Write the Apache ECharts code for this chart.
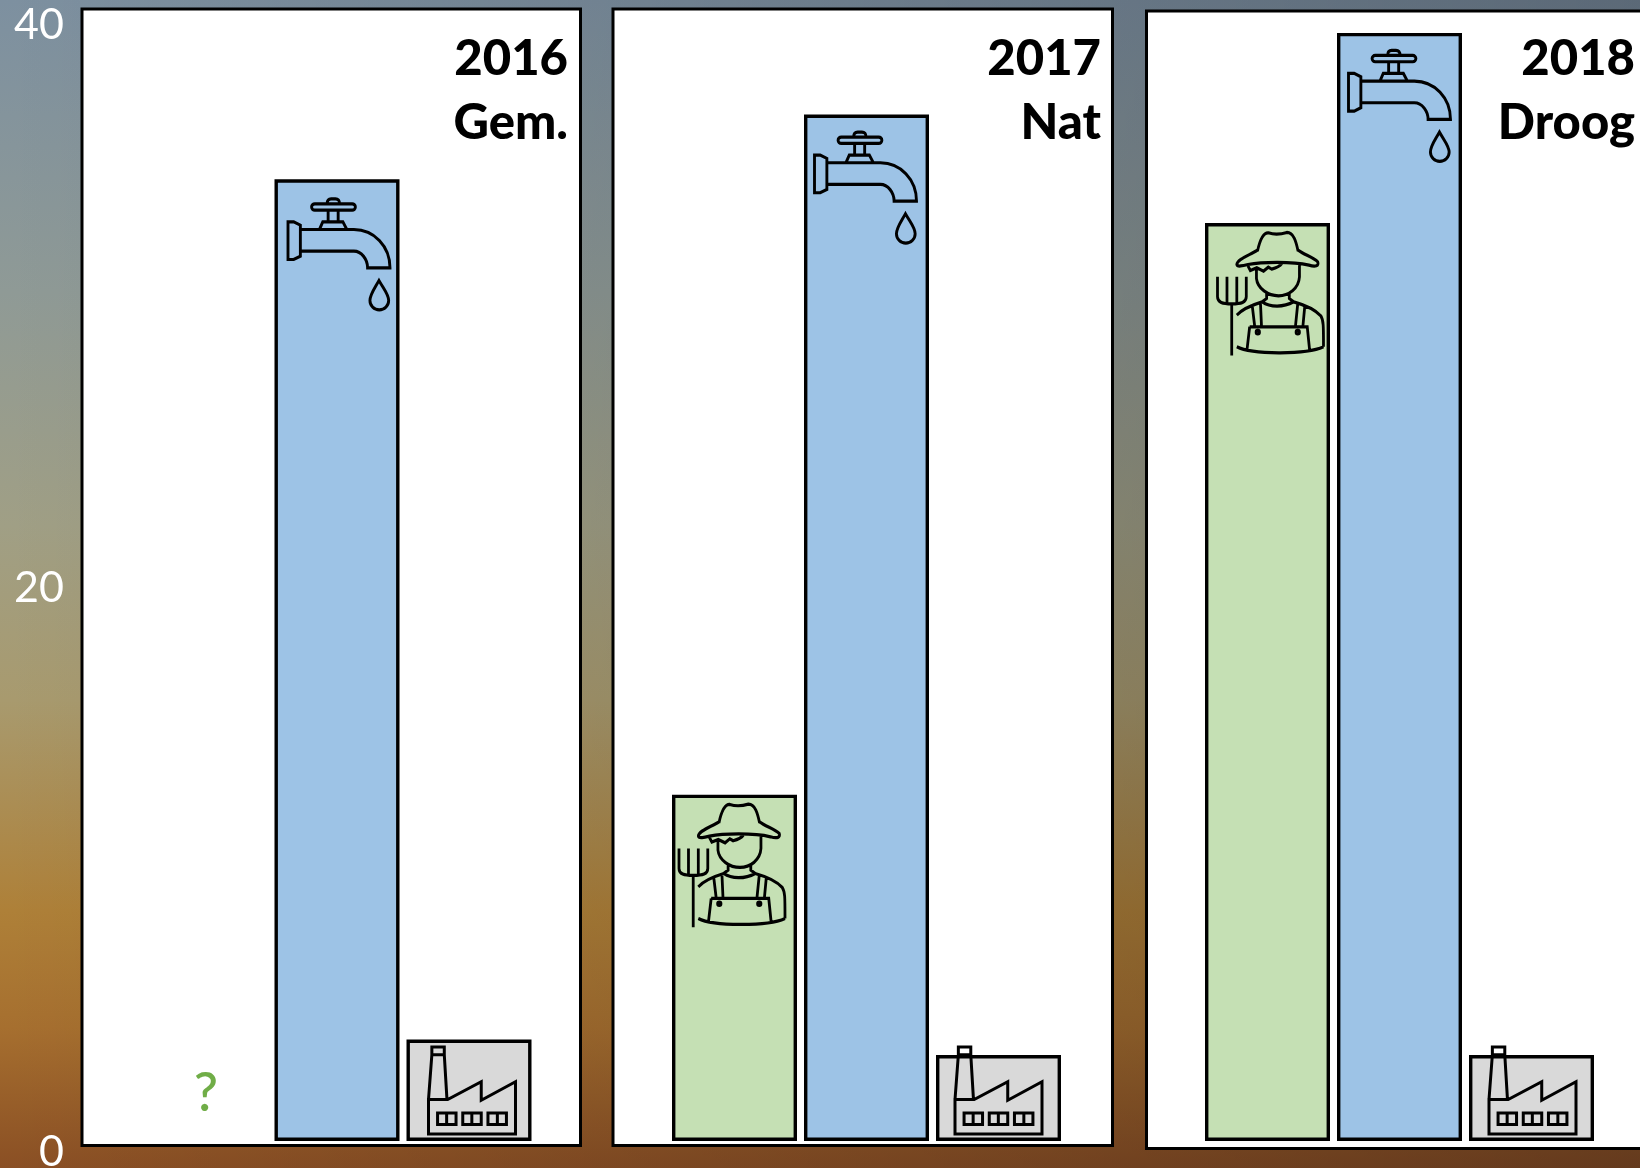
<!DOCTYPE html>
<html>
<head>
<meta charset="utf-8">
<style>html,body{margin:0;padding:0;background:#7d90a0;overflow:hidden}#c{width:1640px;height:1168px}</style>
<script src="https://cdn.jsdelivr.net/npm/echarts@6/dist/echarts.min.js"></script>
</head>
<body>
<div id="c"></div>
<script>
const categories = ['Landbouw', 'Drinkwater', 'Industrie'];
const years = ['2016', '2017', '2018'];
const regimes = ['Gem.', 'Nat', 'Droog'];
const landbouw = [null, 12.3, 32.6];
const drinkwater = [34.15, 36.45, 39.35];
const industrie = [3.6, 3.05, 3.05];
const axisTicks = [0, 20, 40];
const unknownMark = '?';

const TAP = 'path://M708 168H820A9.5 9.5 0 0 1 820 187H708A9.5 9.5 0 0 1 708 168Z' +
  'M745 168C745 158 750 153 757 153H770C778 153 782 158 782 168' +
  'M748 187V222M778 187V222M722 245L732 222H792L804 245' +
  'M628 222H645L665 232V325L645 335H628Z' +
  'M665 245H825C885 245 933 295 933 360H866C866 335 848 310 825 310H665' +
  'M900 398C885 425 873 440 873 458A27 27 0 0 0 929 458C929 440 915 425 900 398Z';
const FARMER = 'path://M178 128C185 95 195 72 210 73C225 78 245 78 265 72C285 72 292 100 298 128' +
  'M178 125C155 140 118 152 117 168C118 176 135 172 150 168C190 160 280 158 330 170C350 176 360 172 356 160C345 148 315 138 298 125' +
  'M150 172L157 186L176 178L196 188L210 176L220 182C235 178 245 172 250 165' +
  'M175 180V210C178 240 210 262 240 262C270 262 300 240 302 205V166' +
  'M205 252V270L192 280C215 297 255 297 285 280L272 270V254' +
  'M117 320C130 305 160 290 192 280M285 280C320 290 350 305 365 322C373 335 373 350 373 415' +
  'M117 415C160 438 320 440 373 415' +
  'M162 287L170 355M187 287L190 355M297 285L290 355M318 290L312 355' +
  'M155 355H325L332 425M155 355L147 425' +
  'M174 371A5 5 0 0 0 184 371A5 5 0 0 0 174 371ZM292 371A5 5 0 0 0 302 371A5 5 0 0 0 292 371Z' +
  'M60 205V265C60 282 75 286 102 286C130 286 145 282 145 265V205M88 205V286M117 205V286M102 286V441';
const FACTORY = 'path://M888 958L898 825V802H935V825L943 958M898 825H935' +
  'M888 958H945L1045 905V960L1147 905V1060H888Z' +
  'M915 998H970V1032H915ZM942 998V1032M990 998H1045V1032H990ZM1017 998V1032M1065 998H1120V1032H1065ZM1093 998V1032';

const barColors = ['#C5E0B4', '#9DC3E6', '#D9D9D9'];
const font = 'Lato';
const chart = echarts.init(document.getElementById('c'), null, {renderer: 'canvas'});

const plotLeft = [139, 668.5, 1201.5];
const plotWidth = 396;
const plotTop = 14.6, plotHeight = 1126.4;
const frames = [[82, 9, 498.5, 1136.5], [613, 9, 499.5, 1136.5], [1146.5, 11, 520, 1137.5]];
const titleEdge = [563, 1096, 1630];
const iconLine = {color: 'transparent', borderColor: '#000', borderWidth: 3, opacity: 1};

const grid = plotLeft.map(l => ({left: l, width: plotWidth, top: plotTop, height: plotHeight, outerBoundsMode: 'none'}));
grid.push({left: 74, width: 5, top: 25, height: 1127, outerBoundsMode: 'none'});

const xAxis = grid.map((g, i) => ({type: 'category', data: categories, gridIndex: i, show: false}));
const yAxis = grid.map((g, i) => i < 3
  ? {type: 'value', min: 0, max: 40, gridIndex: i, show: false}
  : {type: 'value', min: 0, max: 40, interval: 20, gridIndex: i, position: 'left',
     axisLine: {show: false}, axisTick: {show: false}, splitLine: {show: false},
     axisLabel: {color: '#fff', fontFamily: font, fontSize: 43, margin: 10, customValues: axisTicks}});

const series = [];
const icon = (i, symbol, size, offset, data) => ({
  type: 'scatter', xAxisIndex: i, yAxisIndex: i, z: 4, silent: true,
  symbol, symbolSize: size, symbolOffset: offset, itemStyle: iconLine, data
});
years.forEach((y, i) => {
  const vals = [landbouw[i], drinkwater[i], industrie[i]];
  series.push({
    type: 'bar', name: y, xAxisIndex: i, yAxisIndex: i, barWidth: 125, z: 2, silent: true,
    data: vals.map((v, k) => ({value: v, itemStyle: {color: barColors[k], borderColor: '#000', borderWidth: 3.4}}))
  });
  if (vals[0] !== null) series.push(icon(i, FARMER, [106, 123], [[0, -2.5, 3][i], 71], [[categories[0], vals[0]]]));
  series.push(icon(i, TAP, [102, 111], [[2, -1, 0][i], [75, 73, 73][i]], [[categories[1], vals[1]]]));
  series.push(icon(i, FACTORY, [87, 87], [[3, 0, 1][i], -50.5], [[categories[2], 0]]));
});
series.push({
  type: 'scatter', xAxisIndex: 0, yAxisIndex: 0, z: 4, silent: true, symbolSize: 1,
  itemStyle: {color: 'transparent', opacity: 1},
  data: [[categories[0], 0]],
  label: {show: true, position: 'inside', formatter: unknownMark, offset: [1, -47],
          color: '#70AD47', fontFamily: font, fontSize: 54, fontWeight: 500}
});

chart.setOption({
  animation: false,
  backgroundColor: new echarts.graphic.LinearGradient(0, 0, 0, 1, [
    {offset: 0, color: '#7d90a0'}, {offset: 0.25, color: '#8f9a96'}, {offset: 0.45, color: '#a09f85'},
    {offset: 0.6, color: '#a89a6e'}, {offset: 0.78, color: '#ae8038'}, {offset: 0.88, color: '#a66f2f'},
    {offset: 1, color: '#8a4f24'}
  ]),
  grid, xAxis, yAxis, series,
  title: years.map((y, i) => ({
    text: y + '\n' + regimes[i], left: titleEdge[i], top: 22, textAlign: 'right',
    textStyle: {color: '#000', fontFamily: font, fontWeight: 900, fontSize: 49, lineHeight: 64}
  })),
  graphic: [
    {type: 'rect', silent: true, z: 0, shape: {x: 0, y: 0, width: 1640, height: 1168},
     style: {fill: new echarts.graphic.LinearGradient(0, 0, 1, 0, [
       {offset: 0, color: 'rgba(0,0,10,0)'}, {offset: 1, color: 'rgba(0,0,10,0.27)'}])}},
    ...frames.map(f => ({type: 'rect', silent: true, z: 1,
      shape: {x: f[0], y: f[1], width: f[2], height: f[3]},
      style: {fill: '#fff', stroke: '#000', lineWidth: 3}}))
  ]
});
</script>
</body>
</html>
